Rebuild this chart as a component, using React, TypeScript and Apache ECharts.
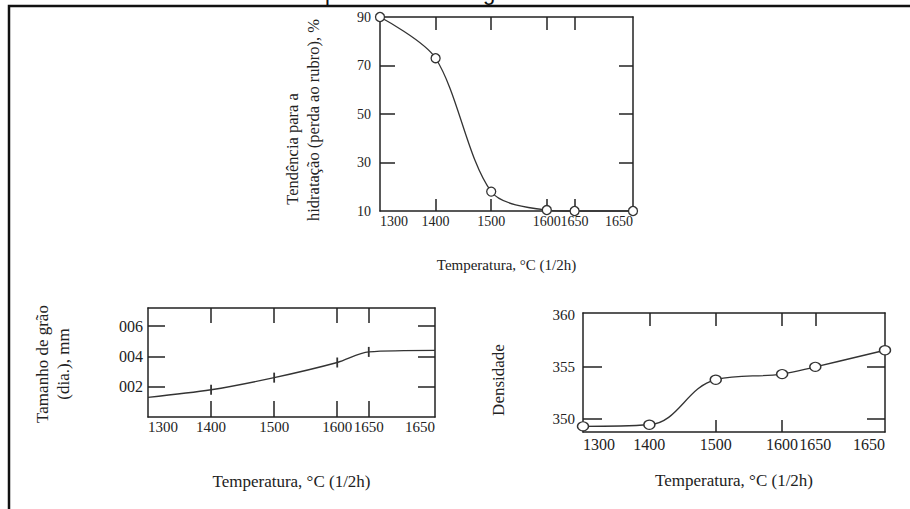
import React, { useEffect, useRef } from "react";
import * as echarts from "echarts";

// ---- data ----
const temps = [1300, 1400, 1500, 1600, 1650, 1755];
const tempTickLabels = ["1300", "1400", "1500", "1600", "1650", "1650"];
const innerTempTicks = [1400, 1500, 1600, 1650];

const hydration = [90, 73, 18, 10.4, 10, 10];
const hydrationTickValues = [10, 30, 50, 70, 90];
const hydrationInnerTicks = [30, 50, 70];

const grainSize = [0.0013, 0.0018, 0.0026, 0.0036, 0.0043, 0.0044];
const grainTickValues = [0.002, 0.004, 0.006];
const grainTickLabels = ["002", "004", "006"];
const grainMarked = [1, 2, 3, 4];

const density = [349.25, 349.4, 353.75, 354.3, 355.0, 356.6];
const densityTickValues = [350, 355, 360];
const densityInnerTicks = [350, 355];
const densityBottomTicks = [1500, 1600];

const SERIF = '"Liberation Serif", "Times New Roman", "DejaVu Serif", serif';
const INK = "#222";

function tempLabel(v: number) {
  for (let i = temps.length - 1; i >= 0; i--) {
    if (Math.abs(temps[i] - v) < 0.5) return tempTickLabels[i];
  }
  return "";
}

function xAxes(grid: number, o: any) {
  const line = { show: true, onZero: false, lineStyle: { color: INK, width: 1.5 } };
  return [
    {
      type: "value", gridIndex: grid, min: 1300, max: 1755, position: "bottom",
      axisLine: line,
      axisTick: { show: true, inside: true, length: o.bottomLen, customValues: o.bottomTicks, lineStyle: { color: INK, width: 1.5 } },
      axisLabel: {
        show: true, customValues: temps, formatter: (v: number) => tempLabel(v),
        fontFamily: SERIF, fontSize: o.labelSize, color: INK, margin: o.labelMargin,
        alignMinLabel: "left", alignMaxLabel: "right",
      },
      splitLine: { show: false },
      name: "Temperatura, °C (1/2h)", nameLocation: "middle", nameGap: o.nameGap,
      nameTextStyle: { fontFamily: SERIF, fontSize: o.nameSize, color: INK },
    },
    {
      type: "value", gridIndex: grid, min: 1300, max: 1755, position: "top",
      axisLine: line,
      axisTick: { show: true, inside: true, length: o.topLen, customValues: innerTempTicks, lineStyle: { color: INK, width: 1.5 } },
      axisLabel: { show: false },
      splitLine: { show: false },
    },
  ];
}

function yAxes(grid: number, o: any) {
  const line = { show: true, onZero: false, lineStyle: { color: INK, width: 1.5 } };
  return [
    {
      type: "value", gridIndex: grid, min: o.min, max: o.max, position: "left",
      axisLine: line,
      axisTick: { show: true, inside: true, length: o.leftLen, customValues: o.ticks, lineStyle: { color: INK, width: 1.5 } },
      axisLabel: {
        show: true, customValues: o.labelValues, formatter: o.formatter,
        fontFamily: SERIF, fontSize: o.labelSize, color: INK, margin: o.labelMargin,
      },
      splitLine: { show: false },
    },
    {
      type: "value", gridIndex: grid, min: o.min, max: o.max, position: "right",
      axisLine: line,
      axisTick: { show: true, inside: true, length: o.rightLen, customValues: o.ticks, lineStyle: { color: INK, width: 1.5 } },
      axisLabel: { show: false },
      splitLine: { show: false },
    },
  ];
}

export default function App() {
  const ref = useRef<HTMLDivElement>(null);

  useEffect(() => {
    if (!ref.current) return;
    const chart = echarts.init(ref.current, null, { renderer: "svg" });

    const rotText = (text: string, x: number, y: number, size: number) => ({
      type: "text", x, y, rotation: Math.PI / 2,
      style: { text, fontFamily: SERIF, fontSize: size, fill: INK, align: "center", verticalAlign: "middle" },
    });

    const option: any = {
      animation: false,
      backgroundColor: "#fff",
      grid: [
        { left: 380, top: 17, width: 253, height: 194 },
        { left: 148, top: 308, width: 287, height: 109 },
        { left: 583, top: 313, width: 302, height: 119 },
      ],
      xAxis: [
        ...xAxes(0, { bottomLen: 12, topLen: 13, bottomTicks: innerTempTicks, labelSize: 14, labelMargin: 3, nameGap: 46, nameSize: 15 }),
        ...xAxes(1, { bottomLen: 16, topLen: 15, bottomTicks: innerTempTicks, labelSize: 15, labelMargin: 2, nameGap: 56, nameSize: 17 }),
        ...xAxes(2, { bottomLen: 12, topLen: 13, bottomTicks: densityBottomTicks, labelSize: 16, labelMargin: 4, nameGap: 40, nameSize: 17 }),
      ],
      yAxis: [
        ...yAxes(0, { min: 10, max: 90, ticks: hydrationInnerTicks, labelValues: hydrationTickValues, formatter: (v: number) => String(v), leftLen: 15, rightLen: 14, labelSize: 14, labelMargin: 9 }),
        ...yAxes(1, {
          min: 0, max: 0.0072, ticks: grainTickValues, labelValues: grainTickValues,
          formatter: (v: number) => {
            const i = grainTickValues.findIndex((g) => Math.abs(g - v) < 1e-6);
            return i >= 0 ? grainTickLabels[i] : "";
          },
          leftLen: 17, rightLen: 17, labelSize: 16, labelMargin: 5,
        }),
        ...yAxes(2, { min: 348.7, max: 360.2, ticks: densityInnerTicks, labelValues: densityTickValues, formatter: (v: number) => String(Math.round(v)), leftLen: 19, rightLen: 18, labelSize: 15, labelMargin: 8 }),
      ],
      series: [
        {
          type: "line", xAxisIndex: 0, yAxisIndex: 0, clip: false,
          data: temps.map((t, i) => [t, hydration[i]]),
          smooth: 0.3,
          symbol: "circle", symbolSize: 9,
          itemStyle: { color: "#fff", borderColor: "#333", borderWidth: 1.3 },
          lineStyle: { color: "#333", width: 1.3 },
        },
        {
          type: "line", xAxisIndex: 2, yAxisIndex: 2, clip: false,
          data: temps.map((t, i) => [t, grainSize[i]]),
          smooth: 0.3,
          symbol: (_v: any, p: any) => (grainMarked.indexOf(p.dataIndex) >= 0 ? "rect" : "none"),
          symbolSize: [1.8, 10],
          itemStyle: { color: "#333" },
          lineStyle: { color: "#333", width: 1.3 },
        },
        {
          type: "line", xAxisIndex: 4, yAxisIndex: 4, clip: false,
          data: temps.map((t, i) => [t, density[i]]),
          smooth: 0.4,
          symbol: "circle", symbolSize: [11, 9],
          itemStyle: { color: "#fff", borderColor: "#333", borderWidth: 1.3 },
          lineStyle: { color: "#333", width: 1.3 },
        },
      ],
      graphic: [
        { type: "rect", shape: { x: 9, y: 6, width: 1000, height: 600 }, style: { fill: "none", stroke: "#111", lineWidth: 2.5 }, silent: true },
        { type: "text", x: 325, y: 3, style: { text: "p", fontFamily: '"Liberation Sans", Arial, sans-serif', fontSize: 22, fill: "#111", align: "left", verticalAlign: "bottom" } },
        { type: "text", x: 483, y: 3, style: { text: "g", fontFamily: '"Liberation Sans", Arial, sans-serif', fontSize: 22, fill: "#111", align: "left", verticalAlign: "bottom" } },
        rotText("Tendência para a", 292, 149, 16.5),
        rotText("hidratação (perda ao rubro), %", 313, 120, 16.5),
        rotText("Tamanho de grão", 42, 364, 17),
        rotText("(dia.), mm", 63, 364, 17),
        rotText("Densidade", 498, 380, 17),
      ],
    };

    chart.setOption(option);
    return () => chart.dispose();
  }, []);

  return <div ref={ref} style={{ position: "fixed", left: 0, top: 0, width: 910, height: 509, background: "#fff" }} />;
}
